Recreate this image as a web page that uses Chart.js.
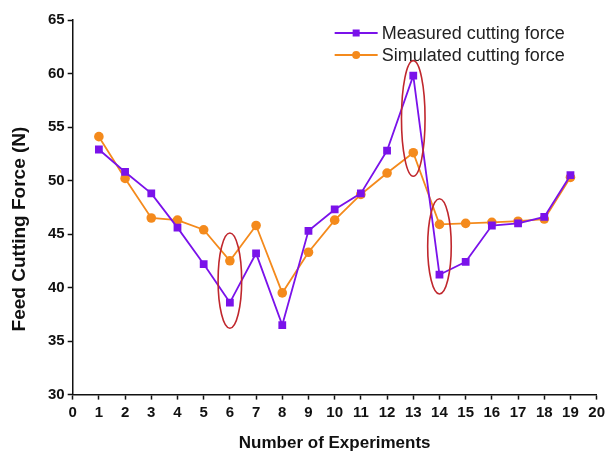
<!DOCTYPE html>
<html>
<head>
<meta charset="utf-8">
<script src="https://cdn.jsdelivr.net/npm/chart.js@4/dist/chart.umd.min.js"></script>
<style>
  html, body { margin: 0; padding: 0; background: #fff; }
  #wrap { width: 609px; height: 458px; }
</style>
</head>
<body>
<div id="wrap"><canvas id="chart"></canvas></div>
<script>
// data
const experiments = [1, 2, 3, 4, 5, 6, 7, 8, 9, 10, 11, 12, 13, 14, 15, 16, 17, 18, 19];
const measured = [52.9, 50.8, 48.8, 45.6, 42.2, 38.6, 43.2, 36.5, 45.3, 47.3, 48.8, 52.8, 59.8, 41.2, 42.4, 45.8, 46.0, 46.6, 50.5];
const simulated = [54.1, 50.2, 46.5, 46.3, 45.4, 42.5, 45.8, 39.5, 43.3, 46.3, 48.7, 50.7, 52.6, 45.9, 46.0, 46.1, 46.2, 46.4, 50.3];
const seriesNames = ['Measured cutting force', 'Simulated cutting force'];
const xTicks = [0, 20];
const yTicks = [30, 65];

// red ellipses: experiment, low, high
const ellipseX = [6, 13, 14];
const ellipseLow = [36.2, 50.4, 39.4];
const ellipseHigh = [45.1, 61.2, 48.3];

const purple = '#7a12ea';
const orange = '#f48a1c';
const fontFamily = '"Liberation Sans", Arial, sans-serif';

const toPoints = (vals) => vals.map((v, i) => ({ x: experiments[i], y: v }));

// ellipses plugin
const ellipsePlugin = {
    id: 'ellipses',
    afterDatasetsDraw(chart) {
        const ctx = chart.ctx;
        const xs = chart.scales.x, ys = chart.scales.y;
        ctx.save();
        ctx.strokeStyle = '#c0272d';
        ctx.lineWidth = 1.6;
        ellipseX.forEach((ex, i) => {
            const cx = xs.getPixelForValue(ex);
            const rx = (xs.getPixelForValue(ex + 0.45) - cx);
            const top = ys.getPixelForValue(ellipseHigh[i]);
            const bot = ys.getPixelForValue(ellipseLow[i]);
            ctx.beginPath();
            ctx.ellipse(cx, (top + bot) / 2, rx, (bot - top) / 2, 0, 0, Math.PI * 2);
            ctx.stroke();
        });
        ctx.restore();
    }
};

// legend inside plot, top right + y title a bit below centre like the original
const legendPlugin = {
    id: 'innerLegend',
    afterDraw(chart) {
        const ctx = chart.ctx;
        const area = chart.chartArea;
        const x0 = area.right - 262;
        const rows = [area.top + 13, area.top + 35];
        ctx.save();
        chart.data.datasets.forEach((ds, i) => {
            const y = rows[i];
            ctx.strokeStyle = ds.borderColor;
            ctx.lineWidth = 2;
            ctx.beginPath();
            ctx.moveTo(x0, y);
            ctx.lineTo(x0 + 43, y);
            ctx.stroke();
            ctx.fillStyle = ds.backgroundColor;
            if (ds.pointStyle === 'rect') {
                ctx.fillRect(x0 + 21.5 - 3.5, y - 3.5, 7, 7);
            } else {
                ctx.beginPath();
                ctx.arc(x0 + 21.5, y, 4, 0, Math.PI * 2);
                ctx.fill();
            }
            ctx.fillStyle = '#222';
            ctx.font = '18px ' + fontFamily;
            ctx.textBaseline = 'middle';
            ctx.fillText(seriesNames[i], x0 + 47, y + 1);
        });

        ctx.translate(20, 229);
        ctx.rotate(-Math.PI / 2);
        ctx.fillStyle = '#111';
        ctx.font = 'bold 19px ' + fontFamily;
        ctx.textAlign = 'center';
        ctx.textBaseline = 'middle';
        ctx.fillText('Feed Cutting Force (N)', 0, 0);
        ctx.restore();
    }
};

const tickFont = { family: fontFamily, size: 15, weight: 'bold' };
const titleFont = { family: fontFamily, size: 17, weight: 'bold' };

new Chart(document.getElementById('chart'), {
    type: 'line',
    data: {
        datasets: [{
            label: seriesNames[0],
            data: toPoints(measured),
            borderColor: purple,
            backgroundColor: purple,
            borderWidth: 1.8,
            pointStyle: 'rect',
            pointRadius: 5.5,
            pointBorderWidth: 0,
            tension: 0
        }, {
            label: seriesNames[1],
            data: toPoints(simulated),
            borderColor: orange,
            backgroundColor: orange,
            borderWidth: 1.8,
            pointStyle: 'circle',
            pointRadius: 4.8,
            pointBorderWidth: 0,
            tension: 0
        }]
    },
    options: {
        responsive: true,
        maintainAspectRatio: false,
        animation: false,
        layout: { padding: { top: 20, right: 12, left: 45, bottom: 0 } },
        plugins: {
            legend: { display: false },
            tooltip: { enabled: false }
        },
        scales: {
            x: {
                type: 'linear',
                min: xTicks[0],
                max: xTicks[1],
                ticks: { stepSize: 1, color: '#111', font: tickFont, padding: 4, maxRotation: 0, autoSkip: false },
                grid: { drawOnChartArea: false, drawTicks: true, tickLength: 5, tickColor: '#111', tickWidth: 1.5 },
                border: { display: true, color: '#111', width: 1.5 },
                title: { display: true, text: 'Number of Experiments', color: '#111', font: titleFont, padding: { top: 8 } }
            },
            y: {
                min: yTicks[0],
                max: yTicks[1],
                ticks: { stepSize: 5, color: '#111', font: tickFont, padding: 3 },
                grid: { drawOnChartArea: false, drawTicks: true, tickLength: 5, tickColor: '#111', tickWidth: 1.5 },
                border: { display: true, color: '#111', width: 1.5 }
            }
        }
    },
    plugins: [ellipsePlugin, legendPlugin]
});
</script>
</body>
</html>
